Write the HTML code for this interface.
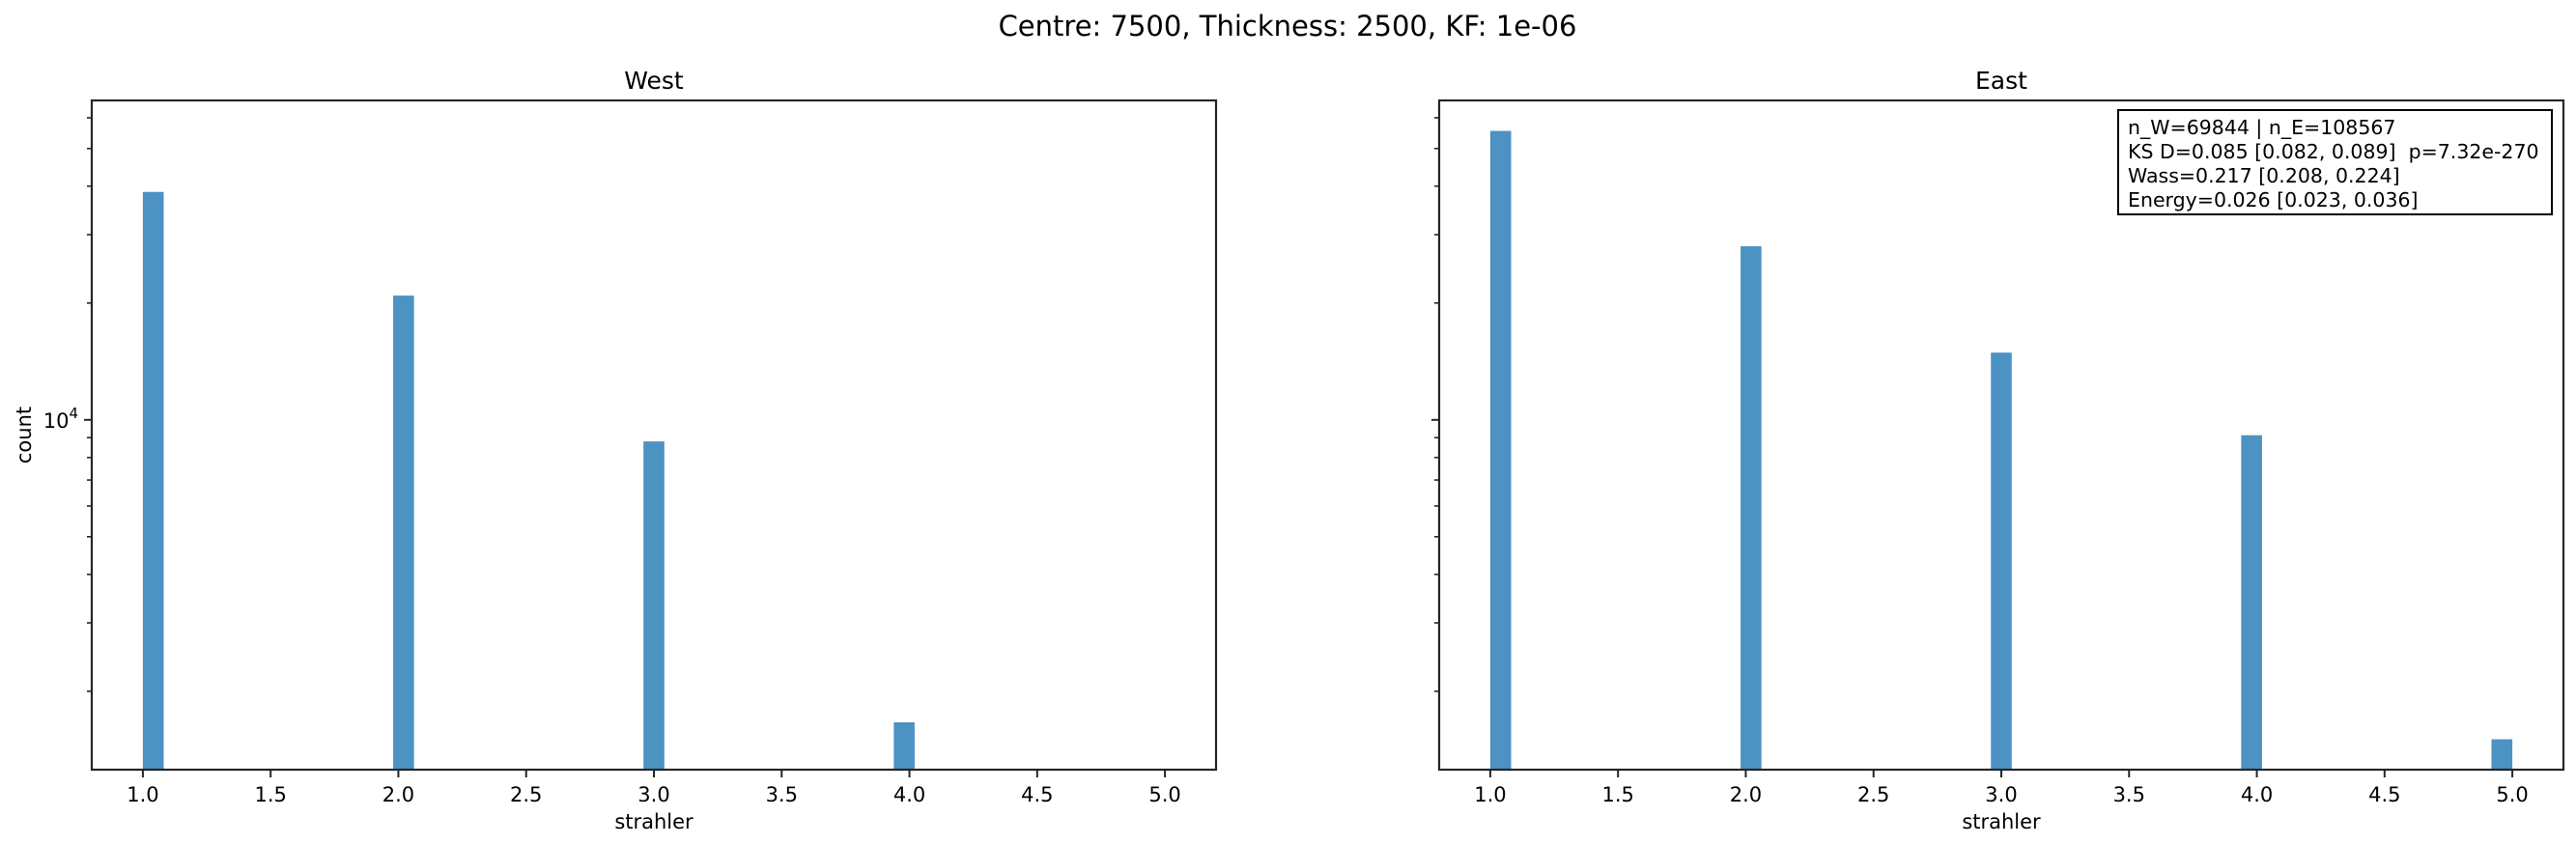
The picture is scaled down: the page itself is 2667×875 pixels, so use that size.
<!DOCTYPE html>
<html><head><meta charset="utf-8">
<style>
html,body{margin:0;padding:0;background:#fff;}
svg{display:block;font-family:"DejaVu Sans","Liberation Sans",sans-serif;}
text{white-space:pre;}
</style></head>
<body>
<svg id="chart" width="2667" height="875" viewBox="0 0 2667 875" xmlns="http://www.w3.org/2000/svg">
<text x="1333" y="37" font-size="29" text-anchor="middle" fill="#000">Centre: 7500, Thickness: 2500, KF: 1e-06</text>
<g id="west"></g>
<g id="east"></g>
</svg>
<script>
const categories = [1, 2, 3, 4, 5];
const westCounts = [38650, 20900, 8800, 1663, 0];
const eastCounts = [55500, 28000, 14900, 9130, 1504];
const xTickLabels = ["1.0","1.5","2.0","2.5","3.0","3.5","4.0","4.5","5.0"];
const xTickValues = [1.0,1.5,2.0,2.5,3.0,3.5,4.0,4.5,5.0];
const yMinorValues = [2000,3000,4000,5000,6000,7000,8000,9000,20000,30000,40000,50000,60000];
const yMajorValues = [10000];
const binStart = 1, binEnd = 5, binCount = 49;
const binWidth = (binEnd - binStart) / binCount;

const NS = "http://www.w3.org/2000/svg";
const TOP = 104, BOT = 797, W = 1164;
const XMIN = 0.8, XMAX = 5.2, YMIN = Math.log10(1256), YMAX = Math.log10(66500);
function mk(parent, tag, attrs){const e=document.createElementNS(NS,tag);for(const k in attrs)e.setAttribute(k,attrs[k]);parent.appendChild(e);return e;}

function panel(gid, left, title, counts, showY, barPrefix){
  const g = document.getElementById(gid);
  const xs = v => left + (v - XMIN) / (XMAX - XMIN) * W;
  const ys = v => BOT - (Math.log10(v) - YMIN) / (YMAX - YMIN) * (BOT - TOP);
  const t = mk(g,'text',{x:left+W/2,y:92,'font-size':25,'text-anchor':'middle',fill:'#000'});
  t.textContent = title;
  
  
  categories.forEach((c,i)=>{
    if(counts[i] <= 0) return;
    let k = Math.floor((c - binStart) / binWidth + 1e-9);
    k = Math.min(k, binCount - 1);
    const x0 = xs(binStart + k*binWidth), x1 = xs(binStart + (k+1)*binWidth);
    const y0 = Math.max(ys(counts[i]), TOP);
    const r = mk(g,'rect',{x:x0,y:y0,width:x1-x0,height:BOT-y0,fill:'#4c92c3'});
    
    
  });
  const frame = mk(g,'rect',{x:left,y:TOP,width:W,height:BOT-TOP,fill:'none',stroke:'#262626','stroke-width':2.2});
  
  
  xTickValues.forEach((v,i)=>{
    const x = xs(v);
    mk(g,'line',{x1:x,y1:BOT,x2:x,y2:BOT+8,stroke:'#262626','stroke-width':2});
    const tl = mk(g,'text',{x:x,y:830,'font-size':21,'text-anchor':'middle',fill:'#000'});
    tl.textContent = xTickLabels[i];
    
    
  });
  yMinorValues.forEach(v=>{
    const y = ys(v);
    mk(g,'line',{x1:left-5,y1:y,x2:left,y2:y,stroke:'#262626','stroke-width':1.6});
  });
  yMajorValues.forEach(v=>{
    const y = ys(v);
    mk(g,'line',{x1:left-8,y1:y,x2:left,y2:y,stroke:'#262626','stroke-width':2});
    if(showY){
      const tl = mk(g,'text',{x:left-14,y:y+8,'font-size':21,'text-anchor':'end',fill:'#000'});
      
      
      const a = document.createElementNS(NS,'tspan'); a.textContent='10'; tl.appendChild(a);
      const b = document.createElementNS(NS,'tspan'); b.setAttribute('dy','-10'); b.setAttribute('font-size','15'); b.textContent=String(Math.round(Math.log10(v))); tl.appendChild(b);
    }
  });
  const xl = mk(g,'text',{x:left+W/2,y:858,'font-size':21,'text-anchor':'middle',fill:'#000'});
  xl.textContent = 'strahler';
  
  
  if(showY){
    const yl = mk(g,'text',{x:0,y:0,'font-size':21,'text-anchor':'middle',fill:'#000',transform:`translate(32,${(TOP+BOT)/2}) rotate(-90)`});
    yl.textContent = 'count';
    
    
  }
}
panel('west', 95, 'West', westCounts, true, 'west');
panel('east', 1490, 'East', eastCounts, false, 'east');

// stats box
const eg = document.getElementById('east');
const box = mk(eg,'rect',{x:2193,y:114,width:449,height:108,fill:'#fff',stroke:'#000','stroke-width':2});


const lines = ["n_W=69844 | n_E=108567","KS D=0.085 [0.082, 0.089]  p=7.32e-270","Wass=0.217 [0.208, 0.224]","Energy=0.026 [0.023, 0.036]"];
lines.forEach((s,i)=>{
  const t = mk(eg,'text',{x:2203,y:139+i*25,'font-size':20.5,fill:'#000'});
  t.textContent = s;
  
  
});
</script>
</body></html>
